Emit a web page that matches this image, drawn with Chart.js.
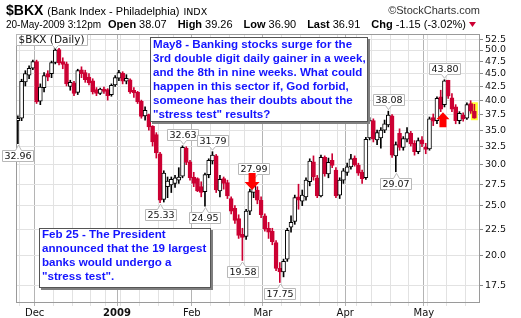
<!DOCTYPE html>
<html>
<head>
<meta charset="utf-8">
<script src="https://cdn.jsdelivr.net/npm/chart.js@4.4.0/dist/chart.umd.min.js"></script>
<style>
  html, body { margin: 0; padding: 0; background: #fff; }
  #wrap { width: 521px; height: 318px; }
</style>
</head>
<body>
<div id="wrap"><canvas id="bkx" width="521" height="318"></canvas></div>
<script>
// trading days on the chart
const dates = [
  '2008-11-21','2008-11-24','2008-11-25','2008-11-26','2008-11-28',
  '2008-12-01','2008-12-02','2008-12-03','2008-12-04','2008-12-05','2008-12-08','2008-12-09','2008-12-10','2008-12-11','2008-12-12',
  '2008-12-15','2008-12-16','2008-12-17','2008-12-18','2008-12-19','2008-12-22','2008-12-23','2008-12-24','2008-12-26','2008-12-29','2008-12-30','2008-12-31',
  '2009-01-02','2009-01-05','2009-01-06','2009-01-07','2009-01-08','2009-01-09','2009-01-12','2009-01-13','2009-01-14','2009-01-15','2009-01-16',
  '2009-01-20','2009-01-21','2009-01-22','2009-01-23','2009-01-26','2009-01-27','2009-01-28','2009-01-29','2009-01-30',
  '2009-02-02','2009-02-03','2009-02-04','2009-02-05','2009-02-06','2009-02-09','2009-02-10','2009-02-11','2009-02-12','2009-02-13',
  '2009-02-17','2009-02-18','2009-02-19','2009-02-20','2009-02-23','2009-02-24','2009-02-25','2009-02-26','2009-02-27',
  '2009-03-02','2009-03-03','2009-03-04','2009-03-05','2009-03-06','2009-03-09','2009-03-10','2009-03-11','2009-03-12','2009-03-13',
  '2009-03-16','2009-03-17','2009-03-18','2009-03-19','2009-03-20','2009-03-23','2009-03-24','2009-03-25','2009-03-26','2009-03-27','2009-03-30','2009-03-31',
  '2009-04-01','2009-04-02','2009-04-03','2009-04-06','2009-04-07','2009-04-08','2009-04-09','2009-04-13','2009-04-14','2009-04-15','2009-04-16','2009-04-17',
  '2009-04-20','2009-04-21','2009-04-22','2009-04-23','2009-04-24','2009-04-27','2009-04-28','2009-04-29','2009-04-30',
  '2009-05-01','2009-05-04','2009-05-05','2009-05-06','2009-05-07','2009-05-08','2009-05-11','2009-05-12','2009-05-13','2009-05-14','2009-05-15',
  '2009-05-18','2009-05-19','2009-05-20'
];

const opens = [
  36.5,36.9,43.4,44.7,46.1, 47.5,39.8,42.3,45.0,45.0, 47.3,50.1,47.5,47.0,42.5, 43.2,41.4,45.8,45.2,44.3,
  43.6,41.9,41.2,42.0,41.9, 41.0,42.8,44.1,45.1,43.5, 43.8,41.8,41.4,39.8,37.3, 37.5,35.6,34.3,31.5,25.7,
  27.2,27.4,27.6,28.0,28.5, 32.3,30.4,28.4,28.2,27.2, 26.6,28.7,30.5,31.2,26.7, 28.2,27.7,25.8,24.7,23.6,
  22.0,21.8,24.4,26.5,26.8, 25.6,23.9,22.6,22.3,21.2, 18.9,18.6,19.7,22.7,23.3, 26.0,25.5,26.0,27.8,30.4,
  28.3,26.1,31.0,28.8,30.6, 29.3,26.2,28.0,29.0,29.7, 30.9,29.9,29.0,28.3,33.8, 36.5,33.5,33.8,35.0,35.8,
  37.3,31.2,34.5,32.4,33.6, 34.5,33.0,31.8,33.5,32.5, 32.2,37.0,36.5,40.6,39.2, 43.7,40.4,38.8,36.5,37.4,
  36.9,39.4,38.07
];
const highs = [
  37.3,43.9,45.6,46.6,47.8, 47.8,43.0,45.2,45.6,47.6, 50.6,50.4,48.3,47.4,43.7, 43.5,45.9,46.4,45.7,45.0,
  44.0,42.3,42.2,42.4,42.1, 43.0,44.6,45.7,45.4,44.8, 44.0,42.3,41.6,40.0,38.8, 37.6,35.7,34.6,31.7,29.2,
  28.4,28.4,28.6,29.6,32.63, 32.5,30.6,29.0,28.3,27.8, 28.9,30.8,31.79,31.4,28.6, 28.4,28.0,26.0,25.0,24.0,
  22.6,24.6,26.9,27.99,27.2, 26.0,24.1,23.2,22.6,21.4, 19.4,19.7,22.6,23.9,26.2, 27.5,26.8,28.3,30.8,31.2,
  28.6,31.3,31.2,30.9,31.5, 29.6,28.3,29.5,30.2,31.4, 31.2,30.2,29.3,33.9,37.0, 36.8,35.0,35.4,36.6,38.08,
  37.5,33.2,35.2,34.0,35.4, 34.8,33.4,33.8,34.0,33.0, 37.1,37.6,40.6,41.8,43.80, 43.7,41.2,39.2,38.0,37.8,
  39.5,39.9,39.26
];
const lows = [
  32.96,36.5,42.6,44.0,45.8, 39.4,39.2,41.5,43.6,44.2, 47.0,46.8,46.0,42.6,41.8, 40.8,41.0,44.2,43.3,42.8,
  41.1,40.8,41.0,41.2,40.0, 40.7,42.5,43.6,43.0,43.0, 41.2,40.5,39.4,36.9,36.6, 35.0,32.6,30.9,25.33,25.4,
  25.9,26.5,27.1,27.6,28.3, 30.0,28.0,27.2,26.6,26.0, 24.95,28.3,30.1,26.5,26.0, 26.9,25.8,24.1,23.1,21.6,
  19.58,21.5,24.0,25.9,25.2, 23.7,22.3,21.6,21.0,18.7, 17.75,18.2,19.5,22.2,23.0, 24.6,25.0,25.6,27.3,28.0,
  25.9,26.0,28.5,28.3,29.6, 25.9,25.8,27.6,28.6,29.4, 29.8,28.6,27.6,28.1,33.5, 33.2,32.8,32.3,34.6,35.5,
  31.0,29.07,32.0,32.0,33.2, 32.6,31.3,31.5,32.5,31.5, 32.0,35.7,36.0,38.0,38.8, 40.3,38.0,36.0,36.0,36.4,
  36.7,37.7,36.90
];
const closes = [
  36.9,43.5,45.0,46.1,47.5, 39.7,42.4,44.6,44.3,47.3, 50.0,47.2,46.9,43.0,43.3, 41.2,45.6,45.0,43.8,43.2,
  41.5,41.2,42.0,41.6,40.8, 42.7,44.2,45.2,43.5,44.1, 41.5,41.3,39.7,37.2,38.2, 35.5,33.2,31.6,25.6,28.9,
  27.9,28.1,28.3,28.4,32.4, 30.3,28.3,27.6,26.7,26.5, 28.7,30.6,31.3,26.8,28.1, 27.6,26.1,24.4,23.4,21.9,
  21.7,24.4,26.6,27.3,25.6, 24.0,22.5,22.2,21.3,18.9, 18.6,19.5,22.4,23.2,25.9, 25.6,26.2,28.0,30.5,28.4,
  26.1,31.0,28.8,30.3,29.9, 26.1,28.0,29.2,29.7,30.8, 30.0,28.9,28.2,33.6,36.5, 33.6,34.6,35.0,36.0,37.4,
  31.3,32.8,32.4,33.7,34.6, 32.9,31.8,33.4,32.9,32.1, 36.8,36.4,40.3,38.4,43.6, 40.7,38.4,36.5,37.7,36.8,
  39.2,38.06,36.91
];

const yTicks = [17.5, 20, 22.5, 25, 27.5, 30, 32.5, 35, 37.5, 40, 42.5, 45, 47.5, 50, 52.5];
const monthKeys = ['2008-12', '2009-01', '2009-02', '2009-03', '2009-04', '2009-05'];
const monthNames = ['Dec', '2009', 'Feb', 'Mar', 'Apr', 'May'];

// [candle index, value, side]
const callouts = [
  [0, 32.96, 'below'], [38, 25.33, 'below'], [44, 32.63, 'above'], [50, 24.95, 'below'],
  [52, 31.79, 'above'], [60, 19.58, 'below'], [63, 27.99, 'above'], [70, 17.75, 'below'],
  [99, 38.08, 'above'], [101, 29.07, 'below'], [114, 43.80, 'above']
];
// [candle index, tip value, direction]
const arrows = [[63, 26.8, 'down'], [114, 37.9, 'up']];

const noteMay = [
  'May8 - Banking stocks surge for the',
  '3rd double digit daily gainer in a week,',
  'and the 8th in nine weeks. What could',
  'happen in this sector if, God forbid,',
  'someone has their doubts about the',
  '"stress test" results?'
];
const noteFeb = [
  'Feb 25 - The President',
  'announced that the 19 largest',
  'banks would undergo a',
  '"stress test".'
];

const RED = '#cc0033';
const last = closes.length - 1;
const up = closes.map((c, i) => c >= opens[i]);
const labels = dates.concat(['']);

function monthOf(i) { return dates[i] ? dates[i].slice(0, 7) : null; }
function isMonthStart(i) { return i > 0 && i < dates.length && monthOf(i) !== monthOf(i - 1); }
function isWeekStart(i) {
  if (i <= 0 || i >= dates.length) return false;
  return new Date(dates[i]).getUTCDay() < new Date(dates[i - 1]).getUTCDay();
}
function vGrid(ctx) {
  const i = ctx.index;
  if (isMonthStart(i)) return '#b4b4b4';
  if (isWeekStart(i)) return '#e2e2e2';
  return 'rgba(0,0,0,0)';
}
function tickText(i) {
  if (!isMonthStart(i)) return '';
  const k = monthKeys.indexOf(monthOf(i));
  return k >= 0 ? monthNames[k] : '';
}

function drawCallout(ctx, cx, cy, text, above) {
  ctx.font = '9.5px "DejaVu Sans"';
  const w = Math.round(ctx.measureText(text).width) + 4, h = 11, gap = 6;
  const left = Math.round(cx - w / 2) + 0.5;
  const top = above ? Math.round(cy - gap - h) + 0.5 : Math.round(cy + gap) + 0.5;
  const mx = Math.round(cx) + 0.5;
  const tip = above ? cy - 1.5 : cy + 1.5;
  ctx.beginPath();
  ctx.moveTo(left, top);
  if (!above) { ctx.lineTo(mx - 3, top); ctx.lineTo(mx, tip); ctx.lineTo(mx + 3, top); }
  ctx.lineTo(left + w, top);
  ctx.lineTo(left + w, top + h);
  if (above) { ctx.lineTo(mx + 3, top + h); ctx.lineTo(mx, tip); ctx.lineTo(mx - 3, top + h); }
  ctx.lineTo(left, top + h);
  ctx.closePath();
  ctx.fillStyle = '#fff';
  ctx.fill();
  ctx.strokeStyle = '#b8b8b8';
  ctx.lineWidth = 1;
  ctx.stroke();
  ctx.fillStyle = '#111';
  ctx.textAlign = 'center';
  ctx.textBaseline = 'middle';
  ctx.fillText(text, left + w / 2, top + h / 2 + 0.5);
}

function drawArrow(ctx, cx, tipY, dir, headW, headH, shaftW, len) {
  const s = dir === 'down' ? 1 : -1;
  ctx.beginPath();
  ctx.moveTo(cx, tipY);
  ctx.lineTo(cx - headW / 2, tipY - s * headH);
  ctx.lineTo(cx - shaftW / 2, tipY - s * headH);
  ctx.lineTo(cx - shaftW / 2, tipY - s * len);
  ctx.lineTo(cx + shaftW / 2, tipY - s * len);
  ctx.lineTo(cx + shaftW / 2, tipY - s * headH);
  ctx.lineTo(cx + headW / 2, tipY - s * headH);
  ctx.closePath();
  ctx.fillStyle = '#ff0000';
  ctx.fill();
}

function drawNote(ctx, x0, y0, w, h, lines, firstY, lineH) {
  ctx.fillStyle = '#808080';
  ctx.fillRect(x0 + 2, y0 + 2, w, h);
  ctx.fillStyle = '#fff';
  ctx.fillRect(x0, y0, w, h);
  ctx.strokeStyle = '#555';
  ctx.lineWidth = 1;
  ctx.strokeRect(x0 + 0.5, y0 + 0.5, w - 1, h - 1);
  ctx.fillStyle = '#1414ff';
  ctx.font = 'bold 11.6px "Liberation Sans", Arial';
  ctx.textAlign = 'left';
  ctx.textBaseline = 'middle';
  lines.forEach((t, k) => ctx.fillText(t, x0 + 3, firstY + k * lineH));
}

function drawHeader(ctx) {
  ctx.save();
  ctx.textBaseline = 'alphabetic';
  ctx.textAlign = 'left';
  ctx.fillStyle = '#000';
  ctx.font = 'bold 14px "Liberation Sans", Arial';
  ctx.fillText('$BKX', 6, 15);
  let x = 6 + ctx.measureText('$BKX').width + 4;
  ctx.font = '11px "Liberation Sans", Arial';
  ctx.fillText('(Bank Index - Philadelphia)', x, 15);
  x += ctx.measureText('(Bank Index - Philadelphia)').width + 4;
  ctx.font = '9.5px "DejaVu Sans"';
  ctx.fillText('INDX', x, 15);
  ctx.textAlign = 'right';
  ctx.font = '11px "Liberation Sans", Arial';
  ctx.fillStyle = '#333';
  ctx.fillText('\u00a9StockCharts.com', 480, 14);

  const prev = closes[last - 1];
  const chg = closes[last] - prev;
  const fields = [
    ['Open', opens[last].toFixed(2)],
    ['High', highs[last].toFixed(2)],
    ['Low', lows[last].toFixed(2)],
    ['Last', closes[last].toFixed(2)],
    ['Chg', chg.toFixed(2) + ' (' + (chg / prev * 100).toFixed(2) + '%)']
  ];
  ctx.textAlign = 'left';
  ctx.fillStyle = '#000';
  ctx.font = '10px "Liberation Sans", Arial';
  ctx.fillText('20-May-2009 3:12pm', 6, 28);
  x = 108;
  fields.forEach(([k, v]) => {
    ctx.font = 'bold 11px "Liberation Sans", Arial';
    ctx.fillText(k, x, 28);
    x += ctx.measureText(k).width + 3;
    ctx.font = '11px "Liberation Sans", Arial';
    ctx.fillText(v, x, 28);
    x += ctx.measureText(v).width + 11;
  });
  x -= 8;
  ctx.fillStyle = RED;
  ctx.beginPath();
  ctx.moveTo(x, 22);
  ctx.lineTo(x + 7, 22);
  ctx.lineTo(x + 3.5, 27);
  ctx.closePath();
  ctx.fill();
  ctx.restore();
}

const overlay = {
  id: 'overlay',
  beforeDatasetsDraw(chart) {
    const { ctx, scales: { x, y } } = chart;
    const cx = x.getPixelForValue(last);
    const t = y.getPixelForValue(highs[last]) - 2;
    const b = y.getPixelForValue(lows[last]) + 2;
    ctx.save();
    ctx.fillStyle = '#ffff33';
    ctx.fillRect(cx - 3.5, t, 7, b - t);
    ctx.restore();
  },
  afterDatasetsDraw(chart) {
    const { ctx, chartArea: a, scales: { x, y } } = chart;
    ctx.save();
    ctx.strokeStyle = '#9a9a9a';
    ctx.lineWidth = 1;
    ctx.strokeRect(a.left + 0.5, a.top + 0.5, a.right - a.left - 1, a.bottom - a.top - 1);

    callouts.forEach(([i, v, side]) => {
      drawCallout(ctx, x.getPixelForValue(i), y.getPixelForValue(v), v.toFixed(2), side === 'above');
    });

    arrows.forEach(([i, v, dir]) => {
      const cx = x.getPixelForValue(i) - 1.5;
      if (dir === 'down') drawArrow(ctx, cx, y.getPixelForValue(v), dir, 15, 8, 7, 17);
      else drawArrow(ctx, cx, y.getPixelForValue(v), dir, 13, 7, 7, 15);
    });

    // legend tag, its pointer marks the period high
    const hi = highs.indexOf(Math.max(...highs));
    const px = Math.round(x.getPixelForValue(hi)) + 0.5;
    ctx.font = '10.5px "DejaVu Sans"';
    const tw = ctx.measureText('$BKX (Daily)').width;
    const l = a.left + 0.5, t = a.top + 0.5, w = Math.round(tw) + 5, h = 11;
    ctx.beginPath();
    ctx.moveTo(l, t);
    ctx.lineTo(l + w, t);
    ctx.lineTo(l + w, t + h);
    ctx.lineTo(px + 3, t + h);
    ctx.lineTo(px, t + h + 3);
    ctx.lineTo(px - 3, t + h);
    ctx.lineTo(l, t + h);
    ctx.closePath();
    ctx.fillStyle = '#fff';
    ctx.fill();
    ctx.strokeStyle = '#b8b8b8';
    ctx.stroke();
    ctx.fillStyle = '#111';
    ctx.textAlign = 'left';
    ctx.textBaseline = 'middle';
    ctx.fillText('$BKX (Daily)', l + 2, t + h / 2 + 0.5);

    drawNote(ctx, 150, 37, 218, 85, noteMay, 44.5, 14);
    drawNote(ctx, 39, 228, 172, 60, noteFeb, 234.5, 14.2);
    ctx.restore();
  },
  afterDraw(chart) {
    drawHeader(chart.ctx);
  }
};

new Chart(document.getElementById('bkx'), {
  type: 'bar',
  data: {
    labels: labels,
    datasets: [
      {
        label: 'range',
        data: lows.map((l, i) => [l, highs[i]]),
        backgroundColor: up.map(u => (u ? '#000' : RED)),
        barThickness: 1,
        grouped: false,
        order: 2
      },
      {
        label: 'body',
        data: opens.map((o, i) => [o, closes[i]]),
        backgroundColor: up.map(u => (u ? '#fff' : RED)),
        borderColor: up.map(u => (u ? '#000' : RED)),
        borderWidth: 1,
        borderSkipped: false,
        barThickness: 4,
        minBarLength: 1,
        grouped: false,
        order: 1
      }
    ]
  },
  options: {
    responsive: false,
    animation: false,
    devicePixelRatio: 1,
    layout: { padding: { top: 34, left: 16, right: 0, bottom: 0 } },
    plugins: { legend: { display: false }, tooltip: { enabled: false } },
    scales: {
      x: {
        type: 'category',
        offset: true,
        grid: { offset: true, color: vGrid, tickColor: vGrid, tickLength: 3 },
        border: { display: false },
        ticks: {
          autoSkip: false,
          maxRotation: 0,
          padding: 1,
          labelOffset: -1.9,
          color: '#111',
          font: ctx => ({ family: 'DejaVu Sans', size: 10, weight: ctx.tick && ctx.tick.label === '2009' ? 'bold' : 'normal' }),
          callback: (v, i) => tickText(i)
        },
        afterFit: s => { s.height = 15; }
      },
      y: {
        type: 'logarithmic',
        position: 'right',
        bounds: 'data',
        min: 16.2,
        max: 53.7,
        afterBuildTicks: s => { s.ticks = yTicks.map(v => ({ value: v })); },
        afterFit: s => { s.width = 41; },
        grid: { color: '#e2e2e2', tickLength: 3, tickColor: '#888' },
        border: { display: false },
        ticks: {
          padding: 2,
          color: '#111',
          font: { family: 'DejaVu Sans', size: 9.5 },
          callback: v => Number(v).toFixed(1)
        }
      }
    }
  },
  plugins: [overlay]
});
</script>
</body>
</html>
